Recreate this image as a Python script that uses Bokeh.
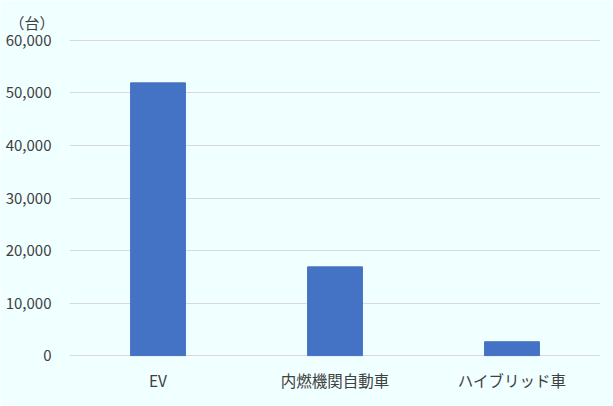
from bokeh.plotting import figure
from bokeh.models import ColumnDataSource, NumeralTickFormatter, FixedTicker, Range1d
from bokeh.embed import file_html
from bokeh.resources import INLINE

categories = ["EV", "内燃機関自動車", "ハイブリッド車"]
values = [51900, 16900, 2650]
y_ticks = [0, 10000, 20000, 30000, 40000, 50000, 60000]
unit_label = "（台）"

FONT = "Noto Sans CJK JP"
BG = "#F0FFFF"

src = ColumnDataSource(dict(cat=categories, val=values))

p = figure(x_range=categories, y_range=Range1d(-150, 60150), width=613, height=406,
           output_backend="svg", toolbar_location=None,
           background_fill_color=BG, border_fill_color=BG,
           min_border_left=69, min_border_right=13, min_border_top=39, min_border_bottom=50,
           outline_line_color=None, title=unit_label)

p.title.align = "left"
p.title.offset = -60
p.title.text_font = FONT
p.title.text_font_size = "15px"
p.title.text_font_style = "normal"
p.title.text_color = "#404040"
p.title.standoff = 14

p.vbar(x="cat", top="val", width=0.31, source=src, color="#4472C4")

p.yaxis.ticker = FixedTicker(ticks=y_ticks)
p.yaxis.formatter = NumeralTickFormatter(format="0,0")
for ax in (p.xaxis, p.yaxis):
    ax.axis_line_color = None
    ax.major_tick_line_color = None
    ax.minor_tick_line_color = None
    ax.major_label_text_font = FONT
    ax.major_label_text_color = "#404040"
p.yaxis.major_label_text_font_size = "15px"
p.xaxis.major_label_text_font_size = "15.5px"
p.yaxis.major_label_standoff = 12
p.xaxis.major_label_standoff = 6
p.xgrid.grid_line_color = None
p.ygrid.grid_line_color = "#D9D9D9"

open("out.html", "w").write(file_html(p, INLINE))
